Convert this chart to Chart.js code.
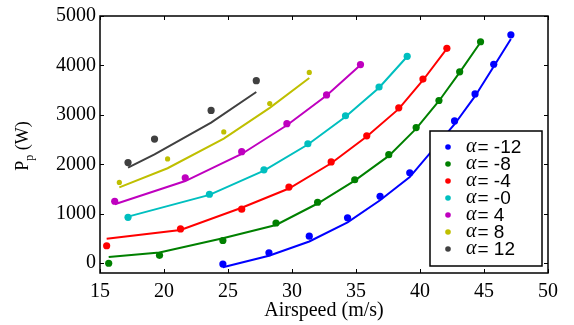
<!DOCTYPE html>
<html><head><meta charset="utf-8">
<script src="https://cdn.jsdelivr.net/npm/chart.js@4"></script>
<style>html,body{margin:0;padding:0;background:#fff}#wrap{width:574px;height:325px;position:relative}</style>
</head><body><div id="wrap"><canvas id="c" width="574" height="325"></canvas></div>
<script>
// ---- data ----
const seriesLabels = ['α = -12', 'α = -8', 'α = -4', 'α = -0', 'α = 4', 'α = 8', 'α = 12'];
const xTicks = [15, 20, 25, 30, 35, 40, 45, 50];
const yTicks = [0, 1000, 2000, 3000, 4000, 5000];

const speedM12 = [24.6, 28.2, 31.35, 34.34, 36.88, 39.2, 42.7, 44.3, 45.76, 47.1];
const measM12  = [-20, 210, 545, 918, 1353, 1828, 2876, 3423, 4024, 4619];
const fitM12   = [-84, 150, 437, 825, 1272, 1740, 2810, 3377, 3978, 4535];

const speedM8 = [15.68, 19.65, 24.6, 28.75, 32.0, 34.9, 37.56, 39.7, 41.48, 43.1, 44.73];
const measM8  = [-3, 157, 458, 812, 1232, 1687, 2194, 2742, 3290, 3871, 4479];
const fitM8   = [124, 217, 505, 772, 1206, 1670, 2170, 2720, 3280, 3860, 4470];

const speedM4 = [15.52, 21.29, 26.07, 29.76, 33.06, 35.84, 38.34, 40.23, 42.1];
const measM4  = [351, 691, 1092, 1539, 2048, 2575, 3142, 3724, 4345];
const fitM4   = [491, 671, 1120, 1510, 2020, 2560, 3120, 3700, 4340];

const speed0 = [17.19, 23.55, 27.81, 31.24, 34.18, 36.8, 39.0];
const meas0  = [926, 1393, 1888, 2415, 2982, 3563, 4185];
const fit0   = [940, 1380, 1870, 2400, 2960, 3550, 4180];

const speed4 = [16.15, 21.66, 26.07, 29.6, 32.7, 35.35];
const meas4  = [1252, 1727, 2255, 2822, 3403, 4018];
const fit4   = [1192, 1660, 2208, 2790, 3390, 4010];

const speed8 = [16.51, 20.28, 24.67, 28.26, 31.35];
const meas8  = [1633, 2108, 2655, 3230, 3858];
const fit8   = [1533, 1920, 2521, 3142, 3744];

const speed12 = [17.19, 19.26, 23.68, 27.21];
const meas12  = [2034, 2509, 3090, 3691];
const fit12   = [1934, 2200, 2842, 3463];

const colors = ['#0000ff', '#008000', '#ff0000', '#00bfbf', '#bf00bf', '#bfbf00', '#404040'];
const pointSizes = [3.6, 3.6, 3.6, 3.6, 3.6, 2.6, 3.6];

const speeds = [speedM12, speedM8, speedM4, speed0, speed4, speed8, speed12];
const meas = [measM12, measM8, measM4, meas0, meas4, meas8, meas12];
const fits = [fitM12, fitM8, fitM4, fit0, fit4, fit8, fit12];

const SERIF = '"Liberation Serif", "Times New Roman", serif';

const datasets = [];
speeds.forEach((xs, i) => {
  datasets.push({
    label: seriesLabels[i] + ' fit',
    data: xs.map((x, k) => ({x: x, y: fits[i][k]})),
    showLine: true, borderColor: colors[i], borderWidth: 2,
    pointRadius: 0, fill: false, tension: 0
  });
});
speeds.forEach((xs, i) => {
  datasets.push({
    label: seriesLabels[i],
    data: xs.map((x, k) => ({x: x, y: meas[i][k]})),
    showLine: false, backgroundColor: colors[i], borderColor: colors[i],
    pointRadius: pointSizes[i], pointBorderWidth: 0
  });
});

const framePlugin = {
  id: 'frame',
  afterDraw(chart) {
    const {ctx, chartArea: a, scales} = chart;
    ctx.save();
    ctx.strokeStyle = '#000';
    ctx.lineWidth = 1.5;
    ctx.strokeRect(a.left, a.top, a.right - a.left, a.bottom - a.top);
    ctx.lineWidth = 1;
    ctx.beginPath();
    const tl = 4;
    xTicks.forEach(v => {
      const px = Math.round(scales.x.getPixelForValue(v)) + 0.5;
      ctx.moveTo(px, a.bottom); ctx.lineTo(px, a.bottom - tl);
      ctx.moveTo(px, a.top); ctx.lineTo(px, a.top + tl);
    });
    yTicks.forEach(v => {
      const py = Math.round(scales.y.getPixelForValue(v)) + 0.5;
      ctx.moveTo(a.left, py); ctx.lineTo(a.left + tl, py);
      ctx.moveTo(a.right, py); ctx.lineTo(a.right - tl, py);
    });
    ctx.stroke();
    ctx.restore();
  }
};

const yTitlePlugin = {
  id: 'ytitle',
  afterDraw(chart) {
    const ctx = chart.ctx;
    ctx.save();
    ctx.translate(23, 146);
    ctx.rotate(-Math.PI / 2);
    ctx.fillStyle = '#000';
    ctx.textBaseline = 'middle';
    const big = '18px ' + SERIF, small = '12px ' + SERIF;
    ctx.font = big; const w1 = ctx.measureText('P').width;
    ctx.font = small; const w2 = ctx.measureText('p').width;
    ctx.font = big; const w3 = ctx.measureText(' (W)').width;
    let x = -(w1 + w2 + w3) / 2;
    ctx.textAlign = 'left';
    ctx.font = big; ctx.fillText('P', x, 0); x += w1;
    ctx.font = small; ctx.fillText('p', x, 7); x += w2;
    ctx.font = big; ctx.fillText(' (W)', x, 0);
    ctx.restore();
  }
};

const legendPlugin = {
  id: 'boxlegend',
  afterDraw(chart) {
    const ctx = chart.ctx;
    ctx.save();
    const bx = 430, by = 131, bw = 112, bh = 135;
    ctx.fillStyle = '#fff';
    ctx.fillRect(bx, by, bw, bh);
    ctx.strokeStyle = '#000';
    ctx.lineWidth = 1.5;
    ctx.strokeRect(bx, by, bw, bh);
    ctx.textBaseline = 'middle';
    seriesLabels.forEach((lab, i) => {
      const y = by + 16 + i * 17;
      ctx.fillStyle = colors[i];
      ctx.beginPath(); ctx.arc(bx + 18, y, 2.8, 0, Math.PI * 2); ctx.fill();
      ctx.fillStyle = '#000';
      ctx.textAlign = 'left';
      ctx.font = 'italic 20px ' + SERIF;
      ctx.fillText(lab.charAt(0), bx + 36, y);
      const wa = ctx.measureText(lab.charAt(0)).width;
      ctx.font = '19px "Liberation Sans", Arial, sans-serif';
      ctx.fillText(lab.slice(1).replace(/^ /, ''), bx + 36 + wa + 1, y + 1);
    });
    ctx.restore();
  }
};

new Chart(document.getElementById('c'), {
  type: 'scatter',
  data: {datasets},
  options: {
    responsive: false, animation: false, devicePixelRatio: 1,
    layout: {padding: {top: 14, right: 26, left: 0, bottom: 0}},
    plugins: {legend: {display: false}, tooltip: {enabled: false}},
    scales: {
      x: {
        type: 'linear', min: 15, max: 50,
        afterFit(s) { s.height = 52; },
        afterBuildTicks(s) { s.ticks = xTicks.map(v => ({value: v})); },
        grid: {display: false, drawTicks: false}, border: {display: false},
        ticks: {padding: 7, color: '#000', maxRotation: 0, font: {family: SERIF, size: 20},
          callback: v => String(v)},
        title: {display: true, text: 'Airspeed (m/s)', color: '#000', font: {family: SERIF, size: 20}, padding: {top: 0, bottom: 2}}
      },
      y: {
        type: 'linear', min: -200, max: 5000,
        afterFit(s) { s.width = 100; },
        afterBuildTicks(s) { s.ticks = yTicks.map(v => ({value: v})); },
        grid: {display: false, drawTicks: false}, border: {display: false},
        ticks: {padding: 4, color: '#000', font: {family: SERIF, size: 20},
          callback: v => String(v)}
      }
    }
  },
  plugins: [framePlugin, yTitlePlugin, legendPlugin]
});
</script>
</body></html>
